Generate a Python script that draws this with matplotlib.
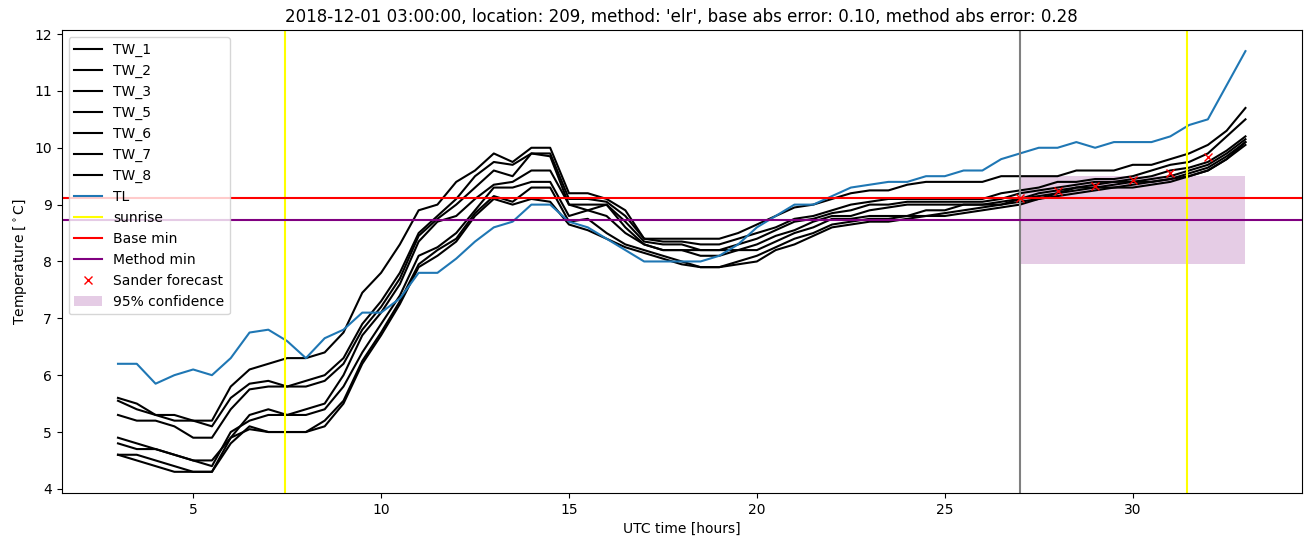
import numpy as np
import matplotlib
matplotlib.use("Agg")
import matplotlib.pyplot as plt

# time axis (UTC hours), half-hour samples
hours = [3.0 + 0.5 * i for i in range(61)]

tw_1 = [5.6, 5.5, 5.3, 5.3, 5.2, 5.2, 5.8, 6.1, 6.2, 6.3, 6.3, 6.4, 6.75, 7.45, 7.8, 8.3,
        8.9, 9.0, 9.4, 9.6, 9.9, 9.75, 10.0, 10.0, 9.2, 9.2, 9.1, 8.9, 8.4, 8.4, 8.4, 8.4,
        8.4, 8.5, 8.65, 8.8, 8.95, 9.0, 9.1, 9.2, 9.25, 9.25, 9.35, 9.4, 9.4, 9.4, 9.4, 9.5,
        9.5, 9.5, 9.5, 9.6, 9.6, 9.6, 9.7, 9.7, 9.8, 9.9, 10.05, 10.3, 10.7]
tw_2 = [5.55, 5.4, 5.3, 5.2, 5.2, 5.1, 5.6, 5.85, 5.9, 5.8, 5.9, 6.0, 6.3, 6.9, 7.3, 7.8,
        8.5, 8.8, 9.1, 9.5, 9.75, 9.7, 9.9, 9.9, 9.1, 9.1, 9.05, 8.8, 8.4, 8.35, 8.35, 8.3,
        8.3, 8.4, 8.5, 8.6, 8.75, 8.8, 8.9, 9.0, 9.05, 9.1, 9.1, 9.1, 9.1, 9.1, 9.1, 9.2,
        9.25, 9.3, 9.4, 9.4, 9.45, 9.45, 9.5, 9.6, 9.7, 9.75, 9.9, 10.2, 10.5]
tw_3 = [5.3, 5.2, 5.2, 5.1, 4.9, 4.9, 5.4, 5.75, 5.8, 5.8, 5.8, 5.9, 6.2, 6.8, 7.2, 7.7,
        8.45, 8.75, 9.0, 9.3, 9.6, 9.5, 9.9, 9.85, 9.0, 9.0, 9.0, 8.7, 8.35, 8.3, 8.3, 8.2,
        8.2, 8.3, 8.4, 8.55, 8.7, 8.75, 8.85, 8.9, 9.0, 9.0, 9.05, 9.05, 9.05, 9.05, 9.05, 9.1,
        9.2, 9.25, 9.3, 9.35, 9.4, 9.4, 9.45, 9.5, 9.6, 9.65, 9.75, 9.95, 10.2]
tw_5 = [4.9, 4.8, 4.7, 4.6, 4.5, 4.5, 4.9, 5.3, 5.4, 5.3, 5.4, 5.5, 6.0, 6.7, 7.1, 7.6,
        8.35, 8.7, 8.8, 9.1, 9.35, 9.4, 9.6, 9.6, 9.0, 8.9, 9.0, 8.6, 8.3, 8.2, 8.2, 8.2,
        8.2, 8.2, 8.3, 8.45, 8.55, 8.7, 8.8, 8.8, 8.9, 8.95, 9.0, 9.0, 9.0, 9.0, 9.0, 9.05,
        9.1, 9.2, 9.25, 9.3, 9.35, 9.4, 9.4, 9.45, 9.5, 9.6, 9.7, 9.9, 10.15]
tw_6 = [4.8, 4.7, 4.7, 4.6, 4.5, 4.4, 5.0, 5.2, 5.3, 5.3, 5.3, 5.4, 5.8, 6.4, 6.9, 7.4,
        8.1, 8.25, 8.5, 8.9, 9.3, 9.3, 9.4, 9.4, 8.8, 8.9, 8.8, 8.5, 8.3, 8.2, 8.2, 8.1,
        8.1, 8.2, 8.2, 8.35, 8.5, 8.6, 8.75, 8.75, 8.8, 8.8, 8.8, 8.9, 8.9, 9.0, 9.0, 9.0,
        9.1, 9.15, 9.2, 9.3, 9.3, 9.35, 9.4, 9.4, 9.45, 9.55, 9.65, 9.85, 10.1]
tw_7 = [4.6, 4.5, 4.4, 4.3, 4.3, 4.3, 4.8, 5.1, 5.0, 5.0, 5.0, 5.2, 5.55, 6.25, 6.75, 7.3,
        7.95, 8.2, 8.4, 8.85, 9.15, 9.05, 9.3, 9.3, 8.7, 8.75, 8.5, 8.3, 8.2, 8.1, 8.0, 7.9,
        7.9, 8.0, 8.1, 8.25, 8.4, 8.5, 8.65, 8.7, 8.75, 8.75, 8.8, 8.8, 8.85, 8.9, 8.95, 9.0,
        9.05, 9.1, 9.2, 9.25, 9.3, 9.3, 9.35, 9.4, 9.45, 9.5, 9.6, 9.8, 10.1]
tw_8 = [4.6, 4.6, 4.5, 4.4, 4.3, 4.3, 4.9, 5.05, 5.0, 5.0, 5.0, 5.1, 5.5, 6.2, 6.7, 7.25,
        7.9, 8.1, 8.35, 8.8, 9.1, 9.0, 9.1, 9.05, 8.65, 8.55, 8.4, 8.25, 8.15, 8.05, 7.95, 7.9,
        7.9, 7.95, 8.0, 8.2, 8.3, 8.45, 8.6, 8.65, 8.7, 8.7, 8.75, 8.8, 8.8, 8.85, 8.9, 8.95,
        9.0, 9.1, 9.15, 9.2, 9.25, 9.3, 9.3, 9.35, 9.4, 9.5, 9.6, 9.8, 10.05]
tl = [6.2, 6.2, 5.85, 6.0, 6.1, 6.0, 6.3, 6.75, 6.8, 6.6, 6.3, 6.65, 6.8, 7.1, 7.1, 7.35,
      7.8, 7.8, 8.05, 8.35, 8.6, 8.7, 9.0, 9.0, 8.7, 8.6, 8.4, 8.2, 8.0, 8.0, 8.0, 8.0,
      8.1, 8.3, 8.6, 8.8, 9.0, 9.0, 9.15, 9.3, 9.35, 9.4, 9.4, 9.5, 9.5, 9.6, 9.6, 9.8,
      9.9, 10.0, 10.0, 10.1, 10.0, 10.1, 10.1, 10.1, 10.2, 10.4, 10.5, 11.1, 11.7]

tw_series = {"TW_1": tw_1, "TW_2": tw_2, "TW_3": tw_3, "TW_5": tw_5,
             "TW_6": tw_6, "TW_7": tw_7, "TW_8": tw_8}

sunrise_hours = [7.45, 31.45]
forecast_start = 27.0
base_min = 9.12
method_min = 8.73
sander_hours = [27, 28, 29, 30, 31, 32]
sander_values = [9.12, 9.24, 9.33, 9.44, 9.56, 9.84]
conf_hours = [27.0, 33.0]
conf_low = 7.95
conf_high = 9.5

title = ("2018-12-01 03:00:00, location: 209, method: 'elr', "
         "base abs error: 0.10, method abs error: 0.28")

fig, ax = plt.subplots(figsize=(13.11, 5.47), dpi=100)
fig.subplots_adjust(left=0.047, right=0.993, top=0.945, bottom=0.099)

for name, vals in tw_series.items():
    ax.plot(hours, vals, color="black", label=name)
ax.plot(hours, tl, color="C0", label="TL")
ax.axvline(sunrise_hours[0], color="yellow", label="sunrise")
ax.axvline(sunrise_hours[1], color="yellow")
ax.axvline(forecast_start, color="gray")
ax.axhline(base_min, color="red", label="Base min")
ax.axhline(method_min, color="purple", label="Method min")
ax.plot(sander_hours, sander_values, "x", color="red", label="Sander forecast")
ax.fill_between(conf_hours, conf_low, conf_high, color="purple", alpha=0.2,
                linewidth=0, label="95% confidence")

ax.set_title(title)
ax.set_xlabel("UTC time [hours]")
ax.set_ylabel(r"Temperature [$^\circ$C]")
ax.legend(loc="upper left")

fig.savefig("out.png", dpi=100)
